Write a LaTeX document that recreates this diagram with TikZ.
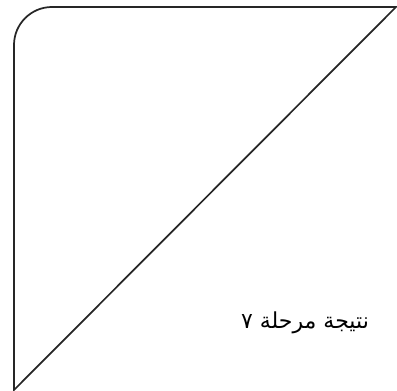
\documentclass[tikz,border=0pt]{standalone}
\usepackage{fontspec}
\newfontfamily\arabicfont[Script=Arabic]{DejaVu Sans}
\TeXXeTstate=1
\begin{document}
\begin{tikzpicture}[x=0.75pt,y=-0.75pt,
  shapeline/.style={draw=black!85,line width=1.3pt,line join=miter},
  lbl/.style={font=\arabicfont\fontsize{16.5}{19}\selectfont,inner sep=0pt,anchor=center}]
\useasboundingbox (0,0) rectangle (397,391);
\coordinate (bl) at (14,390);
\coordinate (tl) at (14,7);
\coordinate (tr) at (396,7);
\draw[shapeline] (bl) [rounded corners=28.5pt] -- (tl) [sharp corners] -- (tr) -- cycle;
\node[lbl] (t) at (305,323) {\beginR نتيجة مرحلة ٧\endR};
\end{tikzpicture}
\end{document}
